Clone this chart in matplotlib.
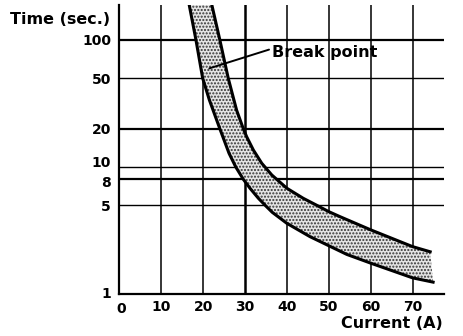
import numpy as np
import matplotlib
matplotlib.use("Agg")
from matplotlib import pyplot as plt
from matplotlib.transforms import ScaledTranslation

# values (current in A, time in s)
upper_current = [22.1, 24.0, 26.0, 28.0, 29.6, 30.4, 32.0, 34.0, 36.4, 40.0, 43.9, 47.1, 50.0, 52.7, 60.0, 70.0, 74.2]
upper_time = [188, 100, 50, 28, 20, 17.3, 13.6, 10.7, 8.65, 6.8, 5.67, 5.0, 4.45, 4.06, 3.2, 2.36, 2.15]

lower_current = [16.7, 18.3, 19.9, 21.5, 24.0, 26.2, 27.8, 29.6, 31.2, 33.2, 34.8, 36.5, 40.0, 45.5, 50.0, 54.3, 60.0, 70.0, 74.9]
lower_time = [188, 100, 50, 33.7, 20, 12.8, 10.0, 8.0, 6.8, 5.67, 5.0, 4.4, 3.6, 2.83, 2.4, 2.05, 1.75, 1.34, 1.24]

x_ticks = [0, 10, 20, 30, 40, 50, 60, 70]
y_ticks = [1, 5, 8, 10, 20, 50, 100]

thick_h = [100, 20, 8]
thick_v = [30]

break_text = (36.4, 73.5)
break_point = (21.5, 59.8)

W, H = 464, 336
fig = plt.figure(figsize=(W / 100, H / 100), dpi=100)

# axes box in pixels
x0, y0, x1, y1 = 119.3, 294, 444, 5
ax = fig.add_axes([x0 / W, 1 - y0 / H, (x1 - x0) / W, (y0 - y1) / H])
ax.set_yscale('log')
ax.set_xlim(0, 77.5)
ax.set_ylim(1, 188.6)

# grid
for v in y_ticks[1:]:
    lw = 1.6 if v in thick_h else 1.0
    ax.axhline(v, color='black', lw=lw, zorder=1)
for v in x_ticks[1:]:
    lw = 1.8 if v in thick_v else 1.1
    ax.axvline(v, color='black', lw=lw, zorder=1)

# shaded band
band_x = lower_current + upper_current[::-1]
band_y = lower_time + upper_time[::-1]
ax.fill(band_x, band_y, facecolor='#e4e4e4', edgecolor='#333333',
        hatch='.....', lw=0, zorder=2)

ax.plot(upper_current, upper_time, color='black', lw=2.2, zorder=3,
        solid_joinstyle='round')
ax.plot(lower_current, lower_time, color='black', lw=2.2, zorder=3,
        solid_joinstyle='round')

ax.annotate('Break point', xy=break_point, xytext=break_text,
            fontsize=11.5, fontweight='bold', family='DejaVu Sans',
            va='baseline', ha='left',
            arrowprops=dict(arrowstyle='-', lw=1.4, color='black',
                            shrinkA=0, shrinkB=0,
                            relpos=(0, 0.75)))

ax.set_xticks(x_ticks)
ax.set_xticklabels([str(v) for v in x_ticks])
ax.set_yticks(y_ticks)
ax.set_yticklabels([str(v) for v in y_ticks])
ax.minorticks_off()
ax.tick_params(length=0, labelsize=10)
ax.tick_params(axis='x', pad=4)
ax.tick_params(axis='y', pad=6)
for lab in ax.get_xticklabels() + ax.get_yticklabels():
    lab.set_fontweight('bold')

# nudge crowded labels apart like in the original print
nudge = {1: 2, 8: -2, 10: 5}
for tick, v in zip(ax.yaxis.get_major_ticks(), y_ticks):
    if v in nudge:
        lab = tick.label1
        lab.set_transform(lab.get_transform() +
                          ScaledTranslation(0, nudge[v] / 100, fig.dpi_scale_trans))
xt0 = ax.xaxis.get_major_ticks()[0].label1
xt0.set_transform(xt0.get_transform() +
                  ScaledTranslation(2 / 100, -2 / 100, fig.dpi_scale_trans))

for s in ['top', 'right']:
    ax.spines[s].set_visible(False)
for s in ['left', 'bottom']:
    ax.spines[s].set_linewidth(1.6)

fig.text(10 / W, 1 - 20 / H, 'Time (sec.)', fontsize=11.5, fontweight='bold',
         ha='left', va='center')
fig.text(443 / W, 1 - 323.5 / H, 'Current (A)', fontsize=11.5, fontweight='bold',
         ha='right', va='center')

fig.savefig('out.png', dpi=100)
